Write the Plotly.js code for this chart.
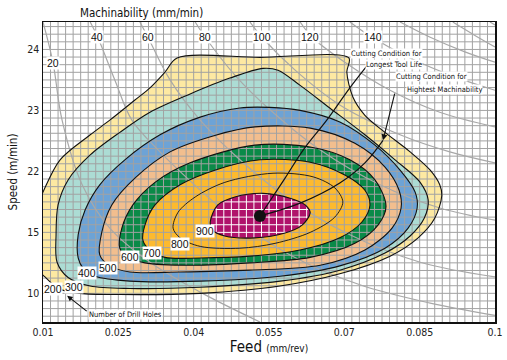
<!DOCTYPE html>
<html><head><meta charset="utf-8">
<script src="https://cdn.plot.ly/plotly-3.0.1.min.js"></script>
<style>html,body{margin:0;padding:0;background:#fff}#chart{width:507px;height:360px}</style>
</head><body><div id="chart"></div>
<script>
// ---------- axis ticks ----------
const feedTicks = [0.01, 0.025, 0.04, 0.055, 0.07, 0.085, 0.1];
const feedTickText = ['0.01', '0.025', '0.04', '0.055', '0.07', '0.085', '0.1'];
const speedTickPos = [0, 1, 2, 3, 4];
const speedTickText = ['10', '15', '22', '23', '24'];

// ---------- tool-life contours [feed, speed-scale position] ----------
const contourLevels = [200, 300, 400, 500, 600, 700, 800, 900];
const contour200 = [[0.0074,1.12],[0.0100,1.66],[0.0134,2.19],[0.0194,2.60],[0.0233,2.84],[0.0283,3.17],[0.0313,3.37],[0.0343,3.63],[0.0367,3.86],[0.0532,3.87],[0.0709,3.86],[0.0705,3.63],[0.0717,3.22],[0.0741,2.92],[0.0781,2.64],[0.0831,2.32],[0.0871,2.02],[0.0890,1.78],[0.0894,1.60],[0.0880,1.23],[0.0847,0.91],[0.0791,0.61],[0.0691,0.32],[0.0572,0.12],[0.0413,0.00],[0.0253,-0.02],[0.0174,0.00],[0.0130,0.08],[0.0104,0.27],[0.0074,0.51]];
const contour300 = [[0.0128,0.51],[0.0126,0.96],[0.0130,1.45],[0.0150,1.86],[0.0194,2.27],[0.0253,2.64],[0.0313,2.97],[0.0393,3.27],[0.0472,3.53],[0.0538,3.69],[0.0568,3.66],[0.0612,3.41],[0.0671,3.04],[0.0741,2.60],[0.0801,2.19],[0.0851,1.82],[0.0867,1.53],[0.0859,1.23],[0.0831,0.94],[0.0781,0.66],[0.0691,0.38],[0.0572,0.20],[0.0413,0.10],[0.0273,0.08],[0.0194,0.12],[0.0150,0.26]];
const contour400 = [[0.0170,0.58],[0.0170,0.96],[0.0184,1.37],[0.0213,1.78],[0.0263,2.19],[0.0333,2.60],[0.0413,2.89],[0.0492,3.04],[0.0552,3.05],[0.0612,3.00],[0.0691,2.81],[0.0761,2.43],[0.0811,2.02],[0.0841,1.66],[0.0845,1.40],[0.0827,1.07],[0.0781,0.74],[0.0691,0.45],[0.0572,0.28],[0.0413,0.20],[0.0273,0.20],[0.0204,0.28],[0.0180,0.41]];
const contour500 = [[0.0213,0.63],[0.0217,1.00],[0.0237,1.45],[0.0283,1.89],[0.0353,2.32],[0.0442,2.59],[0.0522,2.73],[0.0632,2.71],[0.0721,2.46],[0.0781,2.07],[0.0809,1.69],[0.0813,1.40],[0.0795,1.07],[0.0741,0.71],[0.0652,0.46],[0.0512,0.38],[0.0373,0.35],[0.0273,0.35],[0.0233,0.45]];
const contour600 = [[0.0253,0.74],[0.0257,1.07],[0.0279,1.45],[0.0323,1.82],[0.0393,2.14],[0.0522,2.43],[0.0632,2.40],[0.0711,2.19],[0.0761,1.86],[0.0783,1.43],[0.0767,1.12],[0.0721,0.82],[0.0632,0.59],[0.0512,0.50],[0.0393,0.46],[0.0303,0.50],[0.0269,0.59]];
const contour700 = [[0.0299,0.87],[0.0303,1.12],[0.0323,1.45],[0.0373,1.78],[0.0442,2.02],[0.0532,2.19],[0.0632,2.15],[0.0701,1.94],[0.0741,1.69],[0.0751,1.45],[0.0735,1.17],[0.0691,0.91],[0.0612,0.71],[0.0512,0.61],[0.0413,0.58],[0.0343,0.59],[0.0313,0.71]];
const contour800 = [[0.0359,1.07],[0.0369,1.33],[0.0403,1.58],[0.0462,1.82],[0.0558,1.97],[0.0638,1.91],[0.0681,1.73],[0.0697,1.50],[0.0681,1.25],[0.0632,1.00],[0.0562,0.82],[0.0492,0.74],[0.0413,0.77],[0.0373,0.91]];
const contour900 = [[0.0433,1.17],[0.0448,1.45],[0.0482,1.58],[0.0538,1.64],[0.0592,1.56],[0.0622,1.45],[0.0632,1.32],[0.0616,1.12],[0.0582,0.99],[0.0522,0.91],[0.0462,0.94],[0.0437,1.04]];
const contourLabelPos = [[0.0120,0.07],[0.0162,0.10],[0.0188,0.33],[0.0229,0.41],[0.0273,0.59],[0.0317,0.66],[0.0373,0.81],[0.0423,1.02]];

// ---------- machinability curves (mm/min) ----------
const machLevels = [20, 40, 60, 80, 100, 120, 140, 160, 180, 200];
const mach20 = [[0.0100,4.45],[0.0120,3.78],[0.0138,2.84],[0.0178,1.78],[0.0233,1.07],[0.0313,0.51],[0.0413,0.02],[0.0532,-0.47]];
const mach40 = [[0.0194,4.45],[0.0209,4.20],[0.0243,3.50],[0.0277,2.84],[0.0333,2.32],[0.0387,1.89],[0.0472,1.28],[0.0592,0.63],[0.0731,0.14],[0.0871,-0.16],[0.1000,-0.36]];
const mach60 = [[0.0293,4.45],[0.0309,4.20],[0.0353,3.50],[0.0413,2.84],[0.0492,2.19],[0.0592,1.53],[0.0711,0.96],[0.0851,0.51],[0.1000,0.27]];
const mach80 = [[0.0403,4.45],[0.0423,4.20],[0.0482,3.58],[0.0552,3.01],[0.0652,2.35],[0.0771,1.78],[0.0890,1.40],[0.1000,1.20]];
const mach100 = [[0.0512,4.45],[0.0536,4.20],[0.0602,3.66],[0.0691,3.09],[0.0811,2.60],[0.0910,2.32],[0.1000,2.14]];
const mach120 = [[0.0612,4.45],[0.0636,4.20],[0.0701,3.79],[0.0791,3.33],[0.0890,2.97],[0.1000,2.73]];
const mach140 = [[0.0711,4.45],[0.0755,4.20],[0.0831,3.86],[0.0920,3.55],[0.1000,3.33]];
const mach160 = [[0.0811,4.45],[0.0871,4.20],[0.0940,3.96],[0.1000,3.79]];
const mach180 = [[0.0916,4.45],[0.0960,4.23],[0.1000,4.04]];
const mach200 = [[0.0990,4.45],[0.1000,4.40]];
const machLabelPos = [[0.0120,3.78],[0.0208,4.20],[0.0309,4.20],[0.0423,4.20],[0.0536,4.20],[0.0632,4.20],[0.0757,4.20]];

// ---------- optimum conditions ----------
const optimumPoint = [0.0532, 1.27];
const toolLifePath = [[0.0532,1.27],[0.0582,1.89],[0.0618,2.35],[0.0665,2.84],[0.0711,3.37],[0.0745,3.73]];
const machinabilityPath = [[0.0532,1.27],[0.0612,1.48],[0.0691,1.81],[0.0741,2.14],[0.0777,2.51]];
const machinabilityArrowTail = [0.0801, 3.30];

// ---------- styling ----------
const fillColors = ['#fde9a2', '#acdcd4', '#6da3d6', '#f2be8e', '#0a8a48', '#fdba2e', '#fdba2e', '#b0136b'];
const gridGray = '#a2a2a2';
const NARROW = '"Liberation Sans Narrow", "Arial Narrow", "DejaVu Sans Condensed", "Liberation Sans", Arial, sans-serif';
const SANS = '"Liberation Sans", Arial, Helvetica, sans-serif';

const xRange = [0.01, 0.1];
const yRange = [-0.47, 4.45];

const closed = a => a.concat([a[0]]);
const X = a => a.map(p => p[0]);
const Y = a => a.map(p => p[1]);

const contours = [contour200, contour300, contour400, contour500, contour600, contour700, contour800, contour900];
const traces = [];

// filled bands (200..800)
for (let i = 0; i < 7; i++) {
  const c = closed(contours[i]);
  traces.push({type: 'scatter', mode: 'lines', x: X(c), y: Y(c), fill: 'toself',
    fillcolor: fillColors[i], line: {width: 0, shape: 'spline', smoothing: 0.9, color: fillColors[i]},
    hoverinfo: 'skip'});
}

// grey grid above the bands
const gxStep = 0.0015, gyStep = 0.125;
function clipLine(poly, axis, v) {
  const hits = [];
  const n = poly.length;
  const ai = axis === 'x' ? 0 : 1, oi = 1 - ai;
  for (let i = 0; i < n; i++) {
    const a = poly[i], b = poly[(i + 1) % n];
    if ((a[ai] - v) * (b[ai] - v) < 0) {
      const t = (v - a[ai]) / (b[ai] - a[ai]);
      hits.push(a[oi] + t * (b[oi] - a[oi]));
    }
  }
  hits.sort((p, q) => p - q);
  const segs = [];
  for (let i = 0; i + 1 < hits.length; i += 2) segs.push([hits[i], hits[i + 1]]);
  return segs;
}
function gridTrace(color, clipPoly) {
  const gx = [], gy = [];
  for (let v = xRange[0] + gxStep; v < xRange[1] - 1e-9; v += gxStep) {
    const segs = clipPoly ? clipLine(clipPoly, 'x', v) : [[yRange[0], yRange[1]]];
    segs.forEach(s => { gx.push(v, v, null); gy.push(s[0], s[1], null); });
  }
  for (let k = Math.ceil(yRange[0] / gyStep); k * gyStep < yRange[1]; k++) {
    const v = k * gyStep;
    const segs = clipPoly ? clipLine(clipPoly, 'y', v) : [[xRange[0], xRange[1]]];
    segs.forEach(s => { gy.push(v, v, null); gx.push(s[0], s[1], null); });
  }
  return {type: 'scatter', mode: 'lines', x: gx, y: gy, line: {color: color, width: 1}, hoverinfo: 'skip'};
}
traces.push(gridTrace(gridGray, null));

// machinability curves
[mach20, mach40, mach60, mach80, mach100, mach120, mach140, mach160, mach180, mach200].forEach(m => {
  traces.push({type: 'scatter', mode: 'lines', x: X(m), y: Y(m),
    line: {color: '#a8a8a8', width: 1.2, shape: 'spline', smoothing: 1}, hoverinfo: 'skip'});
});

// magenta core with white grid
{
  const c = closed(contour900);
  traces.push({type: 'scatter', mode: 'lines', x: X(c), y: Y(c), fill: 'toself',
    fillcolor: fillColors[7], line: {width: 0, shape: 'spline', smoothing: 0.9, color: fillColors[7]}, hoverinfo: 'skip'});
  traces.push(gridTrace('#ffffff', contour900));
}

// contour outlines
contours.forEach((cc, i) => {
  const c = closed(cc);
  traces.push({type: 'scatter', mode: 'lines', x: X(c), y: Y(c),
    line: {color: '#111', width: i === 6 ? 0.9 : 1.1, shape: 'spline', smoothing: 0.9}, hoverinfo: 'skip'});
});

// optimum paths
traces.push({type: 'scatter', mode: 'lines', x: X(toolLifePath), y: Y(toolLifePath),
  line: {color: '#111', width: 1.2, shape: 'spline'}, hoverinfo: 'skip'});
traces.push({type: 'scatter', mode: 'lines', x: X(machinabilityPath), y: Y(machinabilityPath),
  line: {color: '#111', width: 1.2, shape: 'spline'}, hoverinfo: 'skip'});
traces.push({type: 'scatter', mode: 'markers', x: [optimumPoint[0]], y: [optimumPoint[1]],
  marker: {color: '#111', size: 12}, hoverinfo: 'skip'});

// ---------- annotations ----------
const annotations = [];
const boxLabel = (x, y, text, size, fam) => ({x, y, xref: 'x', yref: 'y', text, showarrow: false,
  font: {family: fam || SANS, size: size || 10, color: '#111'}, bgcolor: '#ffffff', borderpad: 0});
contourLevels.forEach((lv, i) => annotations.push(boxLabel(contourLabelPos[i][0], contourLabelPos[i][1], String(lv), 10.5)));
machLabelPos.forEach((p, i) => annotations.push(boxLabel(p[0], p[1], String(machLevels[i]), 10.5)));

annotations.push(Object.assign(boxLabel(0.0856, 3.94, 'Cutting Condition for', 7.5, NARROW), {xanchor: 'right'}));
annotations.push(Object.assign(boxLabel(0.0856, 3.76, 'Longest Tool Life', 7.5, NARROW), {xanchor: 'right'}));
annotations.push(boxLabel(0.0874, 3.55, 'Cutting Condition for', 7.5, NARROW));
annotations.push(boxLabel(0.0899, 3.35, 'Hightest Machinability', 7.5, NARROW));

// arrow: label -> machinability path end
annotations.push({x: machinabilityPath[machinabilityPath.length - 1][0], y: machinabilityPath[machinabilityPath.length - 1][1],
  xref: 'x', yref: 'y', axref: 'x', ayref: 'y', ax: machinabilityArrowTail[0], ay: machinabilityArrowTail[1],
  text: '', showarrow: true, arrowhead: 2, arrowsize: 1.1, arrowwidth: 1.1, arrowcolor: '#111'});

// number of drill holes
annotations.push({x: 0.0148, y: -0.04, xref: 'x', yref: 'y', axref: 'x', ayref: 'y', ax: 0.0190, ay: -0.31,
  text: '', showarrow: true, arrowhead: 2, arrowsize: 1, arrowwidth: 1.1, arrowcolor: '#111'});
annotations.push(Object.assign(boxLabel(0.0190, -0.35, 'Number of Drill Holes', 7.5, NARROW), {xanchor: 'left'}));

// top axis title
annotations.push({x: 0.219, y: 1.03, xref: 'paper', yref: 'paper', text: 'Machinability (mm/min)', showarrow: false,
  font: {family: NARROW, size: 11.5, color: '#111'}, xanchor: 'center', yanchor: 'middle'});

const layout = {
  width: 507, height: 360,
  margin: {l: 43, r: 12, t: 22, b: 38},
  paper_bgcolor: '#fff', plot_bgcolor: '#fff',
  showlegend: false, hovermode: false,
  xaxis: {range: xRange, tickvals: feedTicks, ticktext: feedTickText, showgrid: false, zeroline: false,
    showline: true, mirror: true, linecolor: '#111', linewidth: 1.5, ticks: '',
    tickfont: {family: NARROW, size: 10.5, color: '#222'},
    title: {text: 'Feed <span style="font-size:10px">(mm/rev)</span>', font: {family: NARROW, size: 15, color: '#111'}, standoff: 3}},
  yaxis: {range: yRange, tickvals: speedTickPos, ticktext: speedTickText, showgrid: false, zeroline: false,
    showline: true, mirror: true, linecolor: '#111', linewidth: 1.5, ticks: '',
    tickfont: {family: NARROW, size: 10.5, color: '#222'},
    title: {text: 'Speed (m/min)', font: {family: NARROW, size: 11.5, color: '#111'}, standoff: 7}},
  annotations: annotations
};

Plotly.newPlot('chart', traces, layout, {staticPlot: true});
</script></body></html>
